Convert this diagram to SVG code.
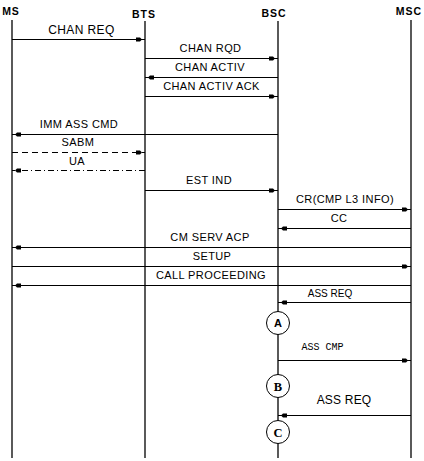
<svg xmlns="http://www.w3.org/2000/svg" width="424" height="461" viewBox="0 0 424 461">
<style>
.hdr{font-family:"Liberation Sans",Arial,sans-serif;font-weight:bold;font-size:10.5px;letter-spacing:1px;text-anchor:middle;fill:#000}
.lbl{font-family:"Liberation Sans",Arial,sans-serif;font-size:11px;letter-spacing:0.4px;text-anchor:middle;fill:#000}
.life{stroke:#000;stroke-width:1.3;fill:none}
.msg{stroke:#000;stroke-width:1;fill:none;marker-end:url(#ah)}
.dash{stroke-dasharray:6,4}
.dashdot{stroke-dasharray:6,3,1,3}
.node{fill:#fff;stroke:#000;stroke-width:1}
.ltr{font-weight:bold;text-anchor:middle;fill:#000}
</style>
<defs>
<marker id="ah" markerUnits="userSpaceOnUse" markerWidth="10" markerHeight="6" viewBox="0 -3 10 6" refX="10" refY="0" orient="auto">
<path d="M1,-2 H5 L7,0 L5,2 H1 Z" fill="#000"/>
</marker>
</defs>
<rect width="424" height="461" fill="#fff"/>
<g id="lifelines">
<g id="ms"><text class="hdr" x="11" y="15">MS</text><line class="life" x1="12" y1="20" x2="12" y2="458"/></g>
<g id="bts"><text class="hdr" x="144" y="18">BTS</text><line class="life" x1="145" y1="21" x2="145" y2="458"/></g>
<g id="bsc"><text class="hdr" x="274" y="17">BSC</text><line class="life" x1="278" y1="21" x2="278" y2="458"/></g>
<g id="msc"><text class="hdr" x="409" y="15">MSC</text><line class="life" x1="411" y1="20" x2="411" y2="458"/></g>
</g>
<g id="connectors">
<line class="msg" x1="12" y1="39.5" x2="145" y2="39.5"/>
<line class="msg" x1="145" y1="58.5" x2="278" y2="58.5"/>
<line class="msg" x1="278" y1="77.5" x2="145" y2="77.5"/>
<line class="msg" x1="145" y1="96.5" x2="278" y2="96.5"/>
<line class="msg" x1="278" y1="134.5" x2="12" y2="134.5"/>
<line class="msg dash" x1="12" y1="152.5" x2="145" y2="152.5"/>
<line class="msg dashdot" x1="145" y1="170.5" x2="12" y2="170.5"/>
<line class="msg" x1="145" y1="190.5" x2="278" y2="190.5"/>
<line class="msg" x1="278" y1="209.5" x2="411" y2="209.5"/>
<line class="msg" x1="411" y1="228.5" x2="278" y2="228.5"/>
<line class="msg" x1="411" y1="247.5" x2="12" y2="247.5"/>
<line class="msg" x1="12" y1="266.5" x2="411" y2="266.5"/>
<line class="msg" x1="411" y1="285.5" x2="12" y2="285.5"/>
<line class="msg" x1="411" y1="302.5" x2="278" y2="302.5"/>
<line class="msg" x1="278" y1="360.5" x2="411" y2="360.5"/>
<line class="msg" x1="411" y1="415.5" x2="278" y2="415.5"/>
<text class="lbl" x="81.5" y="34" style="font-size:12px">CHAN REQ</text>
<text class="lbl" x="210.5" y="52">CHAN RQD</text>
<text class="lbl" x="210" y="71">CHAN ACTIV</text>
<text class="lbl" x="211.5" y="90">CHAN ACTIV ACK</text>
<text class="lbl" x="79" y="128">IMM ASS CMD</text>
<text class="lbl" x="78" y="146">SABM</text>
<text class="lbl" x="77" y="164.5">UA</text>
<text class="lbl" x="209" y="184">EST IND</text>
<text class="lbl" x="345" y="203">CR(CMP L3 INFO)</text>
<text class="lbl" x="339" y="222">CC</text>
<text class="lbl" x="210" y="241">CM SERV ACP</text>
<text class="lbl" x="212" y="260">SETUP</text>
<text class="lbl" x="211" y="279">CALL PROCEEDING</text>
<text class="lbl" x="330" y="297" style="font-size:10px;letter-spacing:0">ASS REQ</text>
<text class="lbl" x="322.5" y="350" style="font-family:'Liberation Mono',monospace;font-size:10px;letter-spacing:0">ASS CMP</text>
<text class="lbl" x="344" y="404" style="font-size:12px;letter-spacing:0.2px">ASS REQ</text>
</g>
<g id="nodeA"><circle class="node" cx="278" cy="323" r="11.5"/><text class="ltr" x="278" y="327" style="font-family:'Liberation Sans',Arial,sans-serif;font-size:11px">A</text></g>
<g id="nodeB"><circle class="node" cx="278" cy="386" r="11.5"/><text class="ltr" x="278" y="390.5" style="font-family:'Liberation Serif','Times New Roman',serif;font-size:12.5px">B</text></g>
<g id="nodeC"><circle class="node" cx="278" cy="432" r="11.5"/><text class="ltr" x="278" y="436.5" style="font-family:'Liberation Serif','Times New Roman',serif;font-size:12.5px">C</text></g>
</svg>
